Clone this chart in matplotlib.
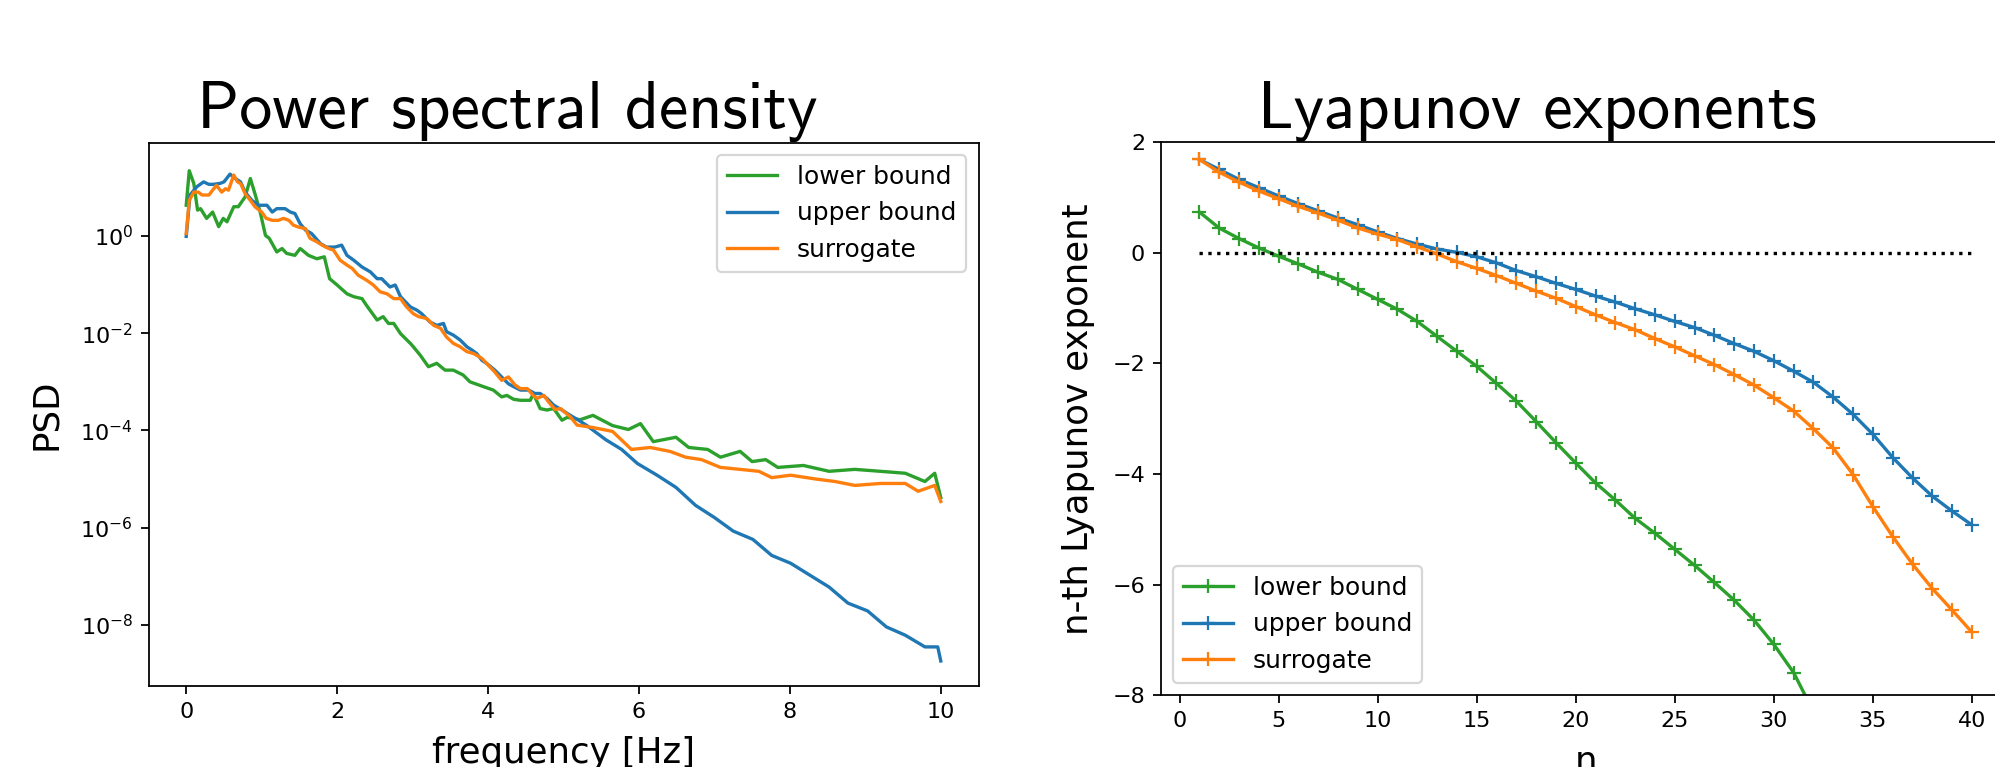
import os
import numpy as np
import matplotlib
matplotlib.use("Agg")
import matplotlib.pyplot as plt
from matplotlib.font_manager import FontProperties
from matplotlib.ticker import NullLocator

# ---------------- data: power spectral density (log10 of PSD) ----------------
lower_freq = [0.0, 0.04, 0.10, 0.15, 0.19, 0.27, 0.35, 0.43, 0.49, 0.54, 0.63, 0.69,
              0.78, 0.85, 0.91, 0.98, 1.05, 1.10, 1.20, 1.27, 1.33, 1.44, 1.51, 1.62,
              1.73, 1.83, 1.90, 2.00, 2.13, 2.22, 2.33, 2.39, 2.53, 2.61, 2.68, 2.75,
              2.84, 2.97, 3.01, 3.10, 3.21, 3.32, 3.43, 3.54, 3.67, 3.76, 3.94, 4.07,
              4.18, 4.25, 4.34, 4.43, 4.56, 4.60, 4.69, 4.78, 4.87, 4.98, 5.05, 5.22,
              5.39, 5.65, 5.86, 6.02, 6.19, 6.49, 6.66, 6.91, 7.08, 7.34, 7.5, 7.68,
              7.84, 8.18, 8.52, 8.86, 9.2, 9.53, 9.79, 9.92, 10.0]
lower_log_psd = [0.63, 1.34, 1.08, 0.53, 0.56, 0.36, 0.49, 0.19, 0.36, 0.29, 0.60, 0.60,
                 0.80, 1.18, 0.87, 0.49, 0.01, -0.05, -0.33, -0.26, -0.36, -0.40, -0.26, -0.40,
                 -0.47, -0.43, -0.88, -1.01, -1.19, -1.25, -1.29, -1.43, -1.73, -1.66, -1.80, -1.80,
                 -2.01, -2.21, -2.28, -2.45, -2.69, -2.62, -2.76, -2.76, -2.86, -3.00, -3.10, -3.17,
                 -3.31, -3.28, -3.36, -3.38, -3.38, -3.24, -3.55, -3.58, -3.55, -3.79, -3.73, -3.78,
                 -3.69, -3.90, -3.98, -3.86, -4.23, -4.14, -4.35, -4.39, -4.55, -4.43, -4.64, -4.60,
                 -4.76, -4.72, -4.84, -4.80, -4.84, -4.88, -5.05, -4.88, -5.38]

upper_freq = [0.0, 0.05, 0.14, 0.23, 0.30, 0.36, 0.45, 0.50, 0.58, 0.65, 0.72, 0.78,
              0.87, 0.96, 1.07, 1.14, 1.20, 1.31, 1.38, 1.44, 1.51, 1.58, 1.66, 1.78,
              1.86, 1.97, 2.06, 2.13, 2.22, 2.33, 2.44, 2.53, 2.59, 2.70, 2.77, 2.84,
              2.97, 3.06, 3.12, 3.23, 3.32, 3.41, 3.45, 3.54, 3.63, 3.72, 3.79, 3.85,
              3.92, 3.98, 4.09, 4.18, 4.27, 4.34, 4.43, 4.54, 4.62, 4.69, 4.78, 4.87,
              4.98, 5.09, 5.20, 5.31, 5.56, 5.77, 5.98, 6.24, 6.49, 6.75, 7.0, 7.25,
              7.51, 7.76, 8.01, 8.27, 8.52, 8.77, 9.03, 9.28, 9.53, 9.79, 9.96, 10.0]
upper_log_psd = [-0.01, 0.84, 1.01, 1.11, 1.06, 1.06, 1.08, 1.11, 1.27, 1.18, 1.11, 0.90,
                 0.73, 0.63, 0.63, 0.49, 0.56, 0.56, 0.49, 0.46, 0.25, 0.12, 0.05, -0.16,
                 -0.23, -0.23, -0.19, -0.40, -0.50, -0.64, -0.74, -0.88, -0.88, -1.05, -1.01, -1.25,
                 -1.46, -1.53, -1.60, -1.77, -1.84, -1.80, -1.97, -2.04, -2.14, -2.28, -2.35, -2.42,
                 -2.56, -2.62, -2.76, -2.90, -3.04, -3.10, -3.17, -3.17, -3.24, -3.24, -3.34, -3.48,
                 -3.58, -3.69, -3.79, -3.90, -4.19, -4.39, -4.68, -4.92, -5.17, -5.54, -5.79, -6.07,
                 -6.24, -6.57, -6.73, -6.98, -7.22, -7.55, -7.71, -8.04, -8.21, -8.45, -8.45, -8.74]

surr_freq = [0.0, 0.04, 0.10, 0.16, 0.21, 0.30, 0.40, 0.47, 0.52, 0.56, 0.63, 0.68,
             0.72, 0.78, 0.85, 0.91, 1.00, 1.06, 1.14, 1.22, 1.29, 1.36, 1.42, 1.49,
             1.58, 1.64, 1.73, 1.80, 1.89, 1.95, 2.04, 2.13, 2.20, 2.28, 2.39, 2.48,
             2.57, 2.66, 2.75, 2.84, 2.92, 3.01, 3.08, 3.19, 3.28, 3.37, 3.45, 3.54,
             3.63, 3.72, 3.81, 3.92, 3.98, 4.09, 4.18, 4.27, 4.36, 4.43, 4.52, 4.60,
             4.65, 4.74, 4.80, 4.89, 4.96, 5.09, 5.18, 5.39, 5.65, 5.9, 6.15, 6.41,
             6.62, 6.83, 7.08, 7.34, 7.59, 7.76, 8.01, 8.35, 8.6, 8.86, 9.2, 9.53,
             9.7, 9.92, 10.0]
surr_log_psd = [0.05, 0.73, 0.90, 0.90, 0.84, 0.84, 1.04, 0.90, 0.97, 0.94, 1.25, 1.11,
                1.08, 0.87, 0.73, 0.60, 0.49, 0.36, 0.32, 0.32, 0.36, 0.32, 0.22, 0.18,
                0.15, -0.05, -0.12, -0.19, -0.26, -0.29, -0.50, -0.60, -0.67, -0.81, -0.91, -1.01,
                -1.15, -1.19, -1.29, -1.29, -1.46, -1.60, -1.66, -1.70, -1.84, -1.90, -2.08, -2.21,
                -2.28, -2.38, -2.42, -2.52, -2.62, -2.80, -2.97, -2.90, -3.07, -3.14, -3.14, -3.28,
                -3.34, -3.28, -3.41, -3.57, -3.55, -3.72, -3.89, -3.94, -4.02, -4.39, -4.35, -4.43,
                -4.55, -4.60, -4.76, -4.80, -4.84, -4.97, -4.92, -5.00, -5.05, -5.13, -5.09, -5.09,
                -5.25, -5.13, -5.46]

# ---------------- data: Lyapunov exponents ----------------
n_lower = list(range(1, 33))
lyap_lower = [0.74, 0.45, 0.26, 0.09, -0.06, -0.20, -0.35, -0.48, -0.66, -0.84,
              -1.02, -1.24, -1.51, -1.78, -2.05, -2.36, -2.68, -3.05, -3.43, -3.80,
              -4.16, -4.47, -4.80, -5.07, -5.36, -5.65, -5.96, -6.28, -6.64, -7.08,
              -7.59, -8.30]
n_upper = list(range(1, 41))
lyap_upper = [1.69, 1.51, 1.33, 1.18, 1.03, 0.89, 0.76, 0.63, 0.51, 0.38,
              0.26, 0.16, 0.07, 0.01, -0.07, -0.18, -0.32, -0.43, -0.55, -0.66,
              -0.78, -0.89, -1.01, -1.12, -1.24, -1.35, -1.49, -1.64, -1.78, -1.95,
              -2.14, -2.34, -2.61, -2.92, -3.28, -3.70, -4.07, -4.40, -4.67, -4.92]
n_surr = list(range(1, 41))
lyap_surr = [1.69, 1.46, 1.28, 1.12, 0.98, 0.84, 0.72, 0.59, 0.45, 0.34,
             0.24, 0.11, -0.02, -0.16, -0.28, -0.41, -0.55, -0.69, -0.82, -0.97,
             -1.12, -1.26, -1.39, -1.55, -1.70, -1.86, -2.02, -2.20, -2.39, -2.62,
             -2.86, -3.18, -3.53, -4.01, -4.59, -5.13, -5.63, -6.07, -6.46, -6.86]
zero_line_n = [1, 40]
zero_line_val = [0, 0]

labels = ["lower bound", "upper bound", "surrogate"]
colors = ["#2ca02c", "#1f77b4", "#ff7f0e"]

# ---------------- figure ----------------
W, H, DPI = 1995, 767, 160
fig = plt.figure(figsize=(W / DPI, H / DPI), dpi=DPI)


def rect(x0, x1, ytop, ybot):
    return [x0 / W, (H - ybot) / H, (x1 - x0) / W, (ybot - ytop) / H]


ax1 = fig.add_axes(rect(148.5, 978.5, 142.5, 686.3))
ax2 = fig.add_axes(rect(1160.7, 2010.6, 142.3, 695.3))

cmss_path = os.path.join(matplotlib.get_data_path(), "fonts", "ttf", "cmss10.ttf")
title_font = FontProperties(fname=cmss_path, size=29.7)

# PSD panel
ax1.plot(lower_freq, 10 ** np.array(lower_log_psd), color=colors[0], label=labels[0])
ax1.plot(upper_freq, 10 ** np.array(upper_log_psd), color=colors[1], label=labels[1])
ax1.plot(surr_freq, 10 ** np.array(surr_log_psd), color=colors[2], label=labels[2])
ax1.set_yscale("log")
ax1.yaxis.set_minor_locator(NullLocator())
ax1.set_ylim(10 ** -9.26, 10 ** 1.92)
ax1.set_xlim(-0.5, 10.5)
ax1.set_xticks([0, 2, 4, 6, 8, 10])
ax1.set_yticks([1e-8, 1e-6, 1e-4, 1e-2, 1e0])
ax1.set_xlabel("frequency [Hz]", fontsize=16, labelpad=6.5)
ax1.set_ylabel("PSD", fontsize=16, labelpad=8)
ax1.set_title("Power spectral density", fontproperties=title_font, x=0.432)
ax1.legend(loc="upper right", fontsize=11.2)

# Lyapunov panel
ax2.plot(n_lower, lyap_lower, color=colors[0], marker="+", label=labels[0])
ax2.plot(n_upper, lyap_upper, color=colors[1], marker="+", label=labels[1])
ax2.plot(n_surr, lyap_surr, color=colors[2], marker="+", label=labels[2])
ax2.plot(zero_line_n, zero_line_val, "k:")
ax2.set_xlim(-0.95, 41.95)
ax2.set_ylim(-8, 2)
ax2.set_xticks([0, 5, 10, 15, 20, 25, 30, 35, 40])
ax2.set_yticks([-8, -6, -4, -2, 0, 2])
ax2.set_xlabel("n", fontsize=16, labelpad=6.5)
ax2.set_ylabel("n-th Lyapunov exponent", fontsize=16, labelpad=8)
ax2.set_title("Lyapunov exponents", fontproperties=title_font, x=0.443)
ax2.legend(loc="lower left", fontsize=11.2)

fig.savefig("out.png", dpi=DPI)
